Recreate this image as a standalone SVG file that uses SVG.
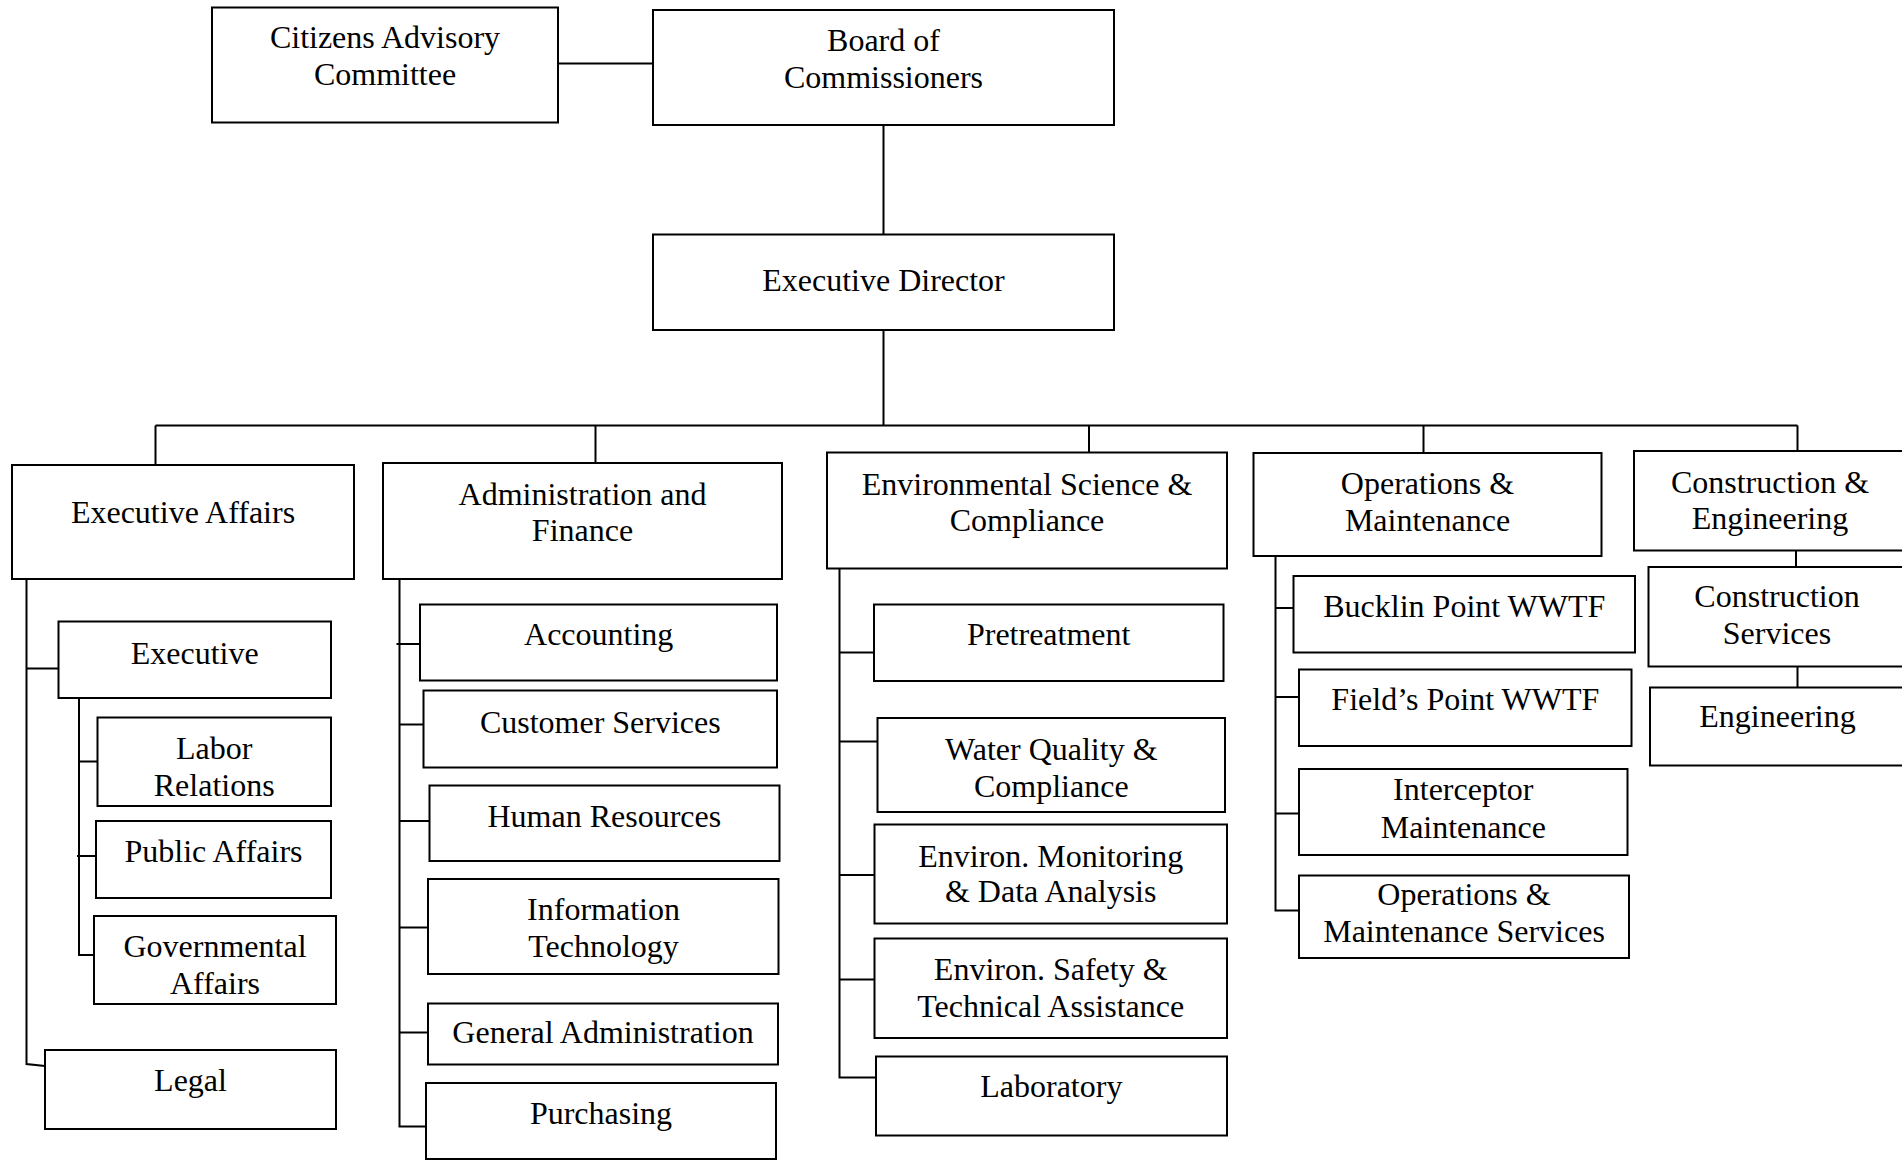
<svg xmlns="http://www.w3.org/2000/svg" width="1902" height="1160" viewBox="0 0 1902 1160">
<style>
.box{fill:#fff;stroke:#000;stroke-width:2}
.lbl{font-family:"Liberation Serif","Times New Roman",serif;font-size:32px;fill:#000;text-anchor:middle}
.conn{fill:none;stroke:#000;stroke-width:2}
</style>
<rect width="1902" height="1160" fill="#fff"/>
<g id="connectors" class="conn">
<path d="M558 63.5 H653"/>
<path d="M883.5 125 V234.5"/>
<path d="M883.5 330 V425.5"/>
<path d="M155.5 425.5 H1797.5"/>
<path d="M155.5 425.5 V465"/>
<path d="M595.5 425.5 V463"/>
<path d="M1089 425.5 V452.5"/>
<path d="M1423.5 425.5 V453"/>
<path d="M1797.5 425.5 V451"/>
<path d="M26.5 579 V1064 L45 1066"/>
<path d="M26.5 668.5 H58.5"/>
<path d="M79 698 V955 H94"/>
<path d="M79 761.5 H97.5"/>
<path d="M77 856 H96"/>
<path d="M399.5 579 V1126.5 H426"/>
<path d="M396.5 644 H420"/>
<path d="M399.5 724.5 H423.5"/>
<path d="M399.5 821 H429.5"/>
<path d="M399.5 927.5 H428"/>
<path d="M399.5 1032.5 H428"/>
<path d="M839.5 568.5 V1077.5 H876"/>
<path d="M839.5 652.5 H874"/>
<path d="M839.5 741.5 H877.5"/>
<path d="M839.5 875 H874.5"/>
<path d="M839.5 979.5 H874.5"/>
<path d="M1275.5 556 V910.5 H1299"/>
<path d="M1275.5 608 H1293.5"/>
<path d="M1275.5 697 H1299"/>
<path d="M1275.5 813.5 H1299"/>
<path d="M1796 550.5 V567"/>
<path d="M1797.5 666.5 V687.5"/>
</g>
<g id="citizens"><rect class="box" x="212" y="7.5" width="346" height="115"/><text class="lbl" x="385" y="48">Citizens Advisory</text><text class="lbl" x="385" y="85">Committee</text></g>
<g id="board"><rect class="box" x="653" y="10" width="461" height="115"/><text class="lbl" x="883.5" y="51">Board of</text><text class="lbl" x="883.5" y="88">Commissioners</text></g>
<g id="executive-director"><rect class="box" x="653" y="234.5" width="461" height="95.5"/><text class="lbl" x="883.5" y="291">Executive Director</text></g>
<g id="executive-affairs"><rect class="box" x="12" y="465" width="342" height="114"/><text class="lbl" x="183" y="522.5">Executive Affairs</text></g>
<g id="executive"><rect class="box" x="58.5" y="621.5" width="272.5" height="76.5"/><text class="lbl" x="194.7" y="663.5">Executive</text></g>
<g id="labor-relations"><rect class="box" x="97.5" y="717.5" width="233.5" height="88.5"/><text class="lbl" x="214.2" y="759">Labor</text><text class="lbl" x="214.2" y="796">Relations</text></g>
<g id="public-affairs"><rect class="box" x="96" y="821" width="235" height="77"/><text class="lbl" x="213.5" y="861.5">Public Affairs</text></g>
<g id="governmental-affairs"><rect class="box" x="94" y="916" width="242" height="88"/><text class="lbl" x="215" y="956.5">Governmental</text><text class="lbl" x="215" y="993.5">Affairs</text></g>
<g id="legal"><rect class="box" x="45" y="1050" width="291" height="79"/><text class="lbl" x="190.5" y="1091">Legal</text></g>
<g id="admin-finance"><rect class="box" x="383" y="463" width="399" height="116"/><text class="lbl" x="582.5" y="504.5">Administration and</text><text class="lbl" x="582.5" y="541">Finance</text></g>
<g id="accounting"><rect class="box" x="420" y="604.5" width="357" height="76"/><text class="lbl" x="598.7" y="645">Accounting</text></g>
<g id="customer-services"><rect class="box" x="423.5" y="690.5" width="353.5" height="77"/><text class="lbl" x="600.3" y="732.5">Customer Services</text></g>
<g id="human-resources"><rect class="box" x="429.5" y="785.5" width="350" height="75.5"/><text class="lbl" x="604.3" y="826.5">Human Resources</text></g>
<g id="information-technology"><rect class="box" x="428" y="879" width="350.5" height="95"/><text class="lbl" x="603.5" y="920">Information</text><text class="lbl" x="603.5" y="956.5">Technology</text></g>
<g id="general-administration"><rect class="box" x="428" y="1003.5" width="350" height="61"/><text class="lbl" x="603" y="1043">General Administration</text></g>
<g id="purchasing"><rect class="box" x="426" y="1083" width="350" height="76"/><text class="lbl" x="601" y="1124">Purchasing</text></g>
<g id="env-science"><rect class="box" x="827" y="452.5" width="400" height="116"/><text class="lbl" x="1027" y="494.5">Environmental Science &amp;</text><text class="lbl" x="1027" y="531">Compliance</text></g>
<g id="pretreatment"><rect class="box" x="874" y="604.5" width="349.5" height="76.5"/><text class="lbl" x="1048.7" y="645">Pretreatment</text></g>
<g id="water-quality"><rect class="box" x="877.5" y="718" width="347.5" height="94"/><text class="lbl" x="1051.3" y="760">Water Quality &amp;</text><text class="lbl" x="1051.3" y="796.5">Compliance</text></g>
<g id="environ-monitoring"><rect class="box" x="874.5" y="824.5" width="352.5" height="99"/><text class="lbl" x="1050.7" y="866.5">Environ. Monitoring</text><text class="lbl" x="1050.7" y="902">&amp; Data Analysis</text></g>
<g id="environ-safety"><rect class="box" x="874.5" y="938.5" width="352.5" height="99.5"/><text class="lbl" x="1050.7" y="980">Environ. Safety &amp;</text><text class="lbl" x="1050.7" y="1017">Technical Assistance</text></g>
<g id="laboratory"><rect class="box" x="876" y="1056.5" width="351" height="79"/><text class="lbl" x="1051.3" y="1097">Laboratory</text></g>
<g id="operations-maintenance"><rect class="box" x="1253.5" y="453" width="348" height="103"/><text class="lbl" x="1427.5" y="493.5">Operations &amp;</text><text class="lbl" x="1427.5" y="530.5">Maintenance</text></g>
<g id="bucklin-point"><rect class="box" x="1293.5" y="576" width="341.5" height="76.5"/><text class="lbl" x="1464.3" y="616.5">Bucklin Point WWTF</text></g>
<g id="fields-point"><rect class="box" x="1299" y="669.5" width="332.5" height="76.5"/><text class="lbl" x="1465.3" y="710">Field’s Point WWTF</text></g>
<g id="interceptor-maintenance"><rect class="box" x="1299" y="769" width="328.5" height="86"/><text class="lbl" x="1463.3" y="800">Interceptor</text><text class="lbl" x="1463.3" y="838">Maintenance</text></g>
<g id="om-services"><rect class="box" x="1299" y="875.5" width="330" height="82.5"/><text class="lbl" x="1464" y="905">Operations &amp;</text><text class="lbl" x="1464" y="942">Maintenance Services</text></g>
<g id="construction-engineering"><rect class="box" x="1634" y="451" width="272" height="99.5"/><text class="lbl" x="1770" y="492.5">Construction &amp;</text><text class="lbl" x="1770" y="528.5">Engineering</text></g>
<g id="construction-services"><rect class="box" x="1648.5" y="567" width="257.5" height="99.5"/><text class="lbl" x="1777" y="607">Construction</text><text class="lbl" x="1777" y="644">Services</text></g>
<g id="engineering"><rect class="box" x="1650" y="687.5" width="256" height="78"/><text class="lbl" x="1777.5" y="727">Engineering</text></g>
</svg>
